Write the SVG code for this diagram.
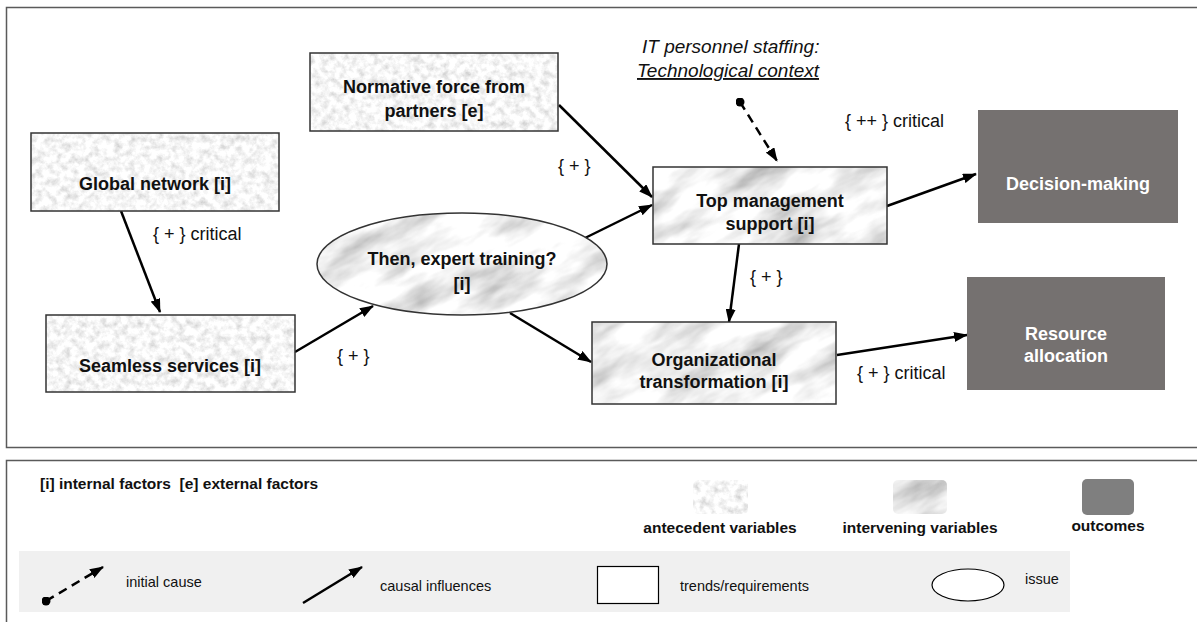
<svg xmlns="http://www.w3.org/2000/svg" width="1197" height="622" viewBox="0 0 1197 622">
  <style>
    .panel { fill: #ffffff; stroke: #5a5a5a; stroke-width: 1.5; }
    .band { fill: #f0f0f0; }
    .edge { stroke: #333333; stroke-width: 1.5; }
    .ante { fill: url(#granite); }
    .inter { fill: url(#marble); }
    .outcome { fill: #757170; }
    .node-text { font-family: "Liberation Sans", Arial, sans-serif; font-weight: bold; font-size: 18px; fill: #111111; text-anchor: middle; }
    .out-text { font-family: "Liberation Sans", Arial, sans-serif; font-weight: bold; font-size: 18px; fill: #ffffff; text-anchor: middle; }
    .label { font-family: "Liberation Sans", Arial, sans-serif; font-size: 18px; fill: #111111; }
    .note { font-family: "Liberation Sans", Arial, sans-serif; font-style: italic; font-size: 19px; fill: #111111; }
    .conn { fill: none; stroke: #000000; stroke-width: 2.5; }
    .dash { stroke-dasharray: 9 6; }
    .leg-bold { font-family: "Liberation Sans", Arial, sans-serif; font-weight: bold; font-size: 15.5px; fill: #111111; }
    .leg-text { font-family: "Liberation Sans", Arial, sans-serif; font-size: 14.5px; fill: #111111; }
  </style>
  <defs>
    <!-- speckled granite texture for antecedent variables -->
    <filter id="graniteNoise" x="0" y="0" width="100%" height="100%">
      <feTurbulence type="fractalNoise" baseFrequency="0.14" numOctaves="4" seed="7" stitchTiles="stitch" result="n"/>
      <feColorMatrix in="n" type="matrix" values="0.7 0 0 0 0.57  0.7 0 0 0 0.57  0.7 0 0 0 0.57  0 0 0 0 1"/>
    </filter>
    <pattern id="granite" patternUnits="userSpaceOnUse" width="600" height="600">
      <rect width="600" height="600" filter="url(#graniteNoise)"/>
    </pattern>
    <!-- soft streaky marble texture for intervening variables -->
    <filter id="marbleNoise" x="0" y="0" width="100%" height="100%">
      <feTurbulence type="fractalNoise" baseFrequency="0.014 0.04" numOctaves="4" seed="11" stitchTiles="stitch" result="n"/>
      <feColorMatrix in="n" type="matrix" values="1.1 0 0 0 0.34  1.1 0 0 0 0.34  1.1 0 0 0 0.34  0 0 0 0 1"/>
    </filter>
    <pattern id="marble" patternUnits="userSpaceOnUse" width="900" height="900" patternTransform="rotate(-28)">
      <rect width="900" height="900" filter="url(#marbleNoise)"/>
    </pattern>
    <marker id="arrow" viewBox="0 0 14 10" refX="13" refY="5" markerWidth="14" markerHeight="10" markerUnits="userSpaceOnUse" orient="auto">
      <path d="M0,0 L14,5 L0,10 z" fill="#000000"/>
    </marker>
    <marker id="dot" viewBox="0 0 10 10" refX="5" refY="5" markerWidth="9" markerHeight="9" markerUnits="userSpaceOnUse">
      <circle cx="5" cy="5" r="5" fill="#000000"/>
    </marker>
  </defs>

  <!-- main panel -->
  <rect class="panel" x="6.5" y="7.5" width="1200" height="440"/>

  <!-- connectors -->
  <g id="connectors">
    <line class="conn" x1="121" y1="211" x2="160" y2="312" marker-end="url(#arrow)"/>
    <line class="conn" x1="295" y1="352" x2="373" y2="306" marker-end="url(#arrow)"/>
    <line class="conn" x1="559" y1="105" x2="652" y2="197" marker-end="url(#arrow)"/>
    <line class="conn" x1="585" y1="238" x2="652" y2="205" marker-end="url(#arrow)"/>
    <line class="conn" x1="510" y1="313" x2="591" y2="362" marker-end="url(#arrow)"/>
    <line class="conn" x1="739" y1="244" x2="729" y2="322" marker-end="url(#arrow)"/>
    <line class="conn" x1="887" y1="206" x2="976" y2="174" marker-end="url(#arrow)"/>
    <line class="conn" x1="837" y1="355" x2="967" y2="335" marker-end="url(#arrow)"/>
    <line class="conn dash" x1="740" y1="102" x2="777" y2="161" marker-start="url(#dot)" marker-end="url(#arrow)"/>

    <text class="label" x="153" y="240">{ + } critical</text>
    <text class="label" x="337" y="362">{ + }</text>
    <text class="label" x="558" y="172">{ + }</text>
    <text class="label" x="750" y="283">{ + }</text>
    <text class="label" x="845" y="127">{ ++ } critical</text>
    <text class="label" x="857" y="379">{ + } critical</text>
  </g>

  <!-- nodes -->
  <g id="global-network">
    <rect class="ante" x="31" y="133" width="248" height="78"/>
    <rect class="edge" x="31" y="133" width="248" height="78" fill="none"/>
    <text class="node-text" x="155" y="190">Global network [i]</text>
  </g>
  <g id="seamless-services">
    <rect class="ante" x="46" y="315" width="249" height="77"/>
    <rect class="edge" x="46" y="315" width="249" height="77" fill="none"/>
    <text class="node-text" x="170" y="372">Seamless services [i]</text>
  </g>
  <g id="normative-force">
    <rect class="ante" x="310" y="53" width="248" height="78"/>
    <rect class="edge" x="310" y="53" width="248" height="78" fill="none"/>
    <text class="node-text" x="434" y="93">Normative force from</text>
    <text class="node-text" x="434" y="117">partners [e]</text>
  </g>
  <g id="expert-training">
    <ellipse class="inter" cx="462" cy="264" rx="145" ry="51"/>
    <ellipse class="edge" cx="462" cy="264" rx="145" ry="51" fill="none"/>
    <text class="node-text" x="462" y="265">Then, expert training?</text>
    <text class="node-text" x="462" y="290">[i]</text>
  </g>
  <g id="top-management">
    <rect class="inter" x="653" y="167" width="234" height="77"/>
    <rect class="edge" x="653" y="167" width="234" height="77" fill="none"/>
    <text class="node-text" x="770" y="207">Top management</text>
    <text class="node-text" x="770" y="230">support [i]</text>
  </g>
  <g id="org-transformation">
    <rect class="inter" x="592" y="322" width="244" height="82"/>
    <rect class="edge" x="592" y="322" width="244" height="82" fill="none"/>
    <text class="node-text" x="714" y="366">Organizational</text>
    <text class="node-text" x="714" y="388">transformation [i]</text>
  </g>
  <g id="it-staffing">
    <text class="note" x="642" y="53">IT personnel staffing:</text>
    <text class="note" x="637" y="77" text-decoration="underline">Technological context</text>
  </g>
  <g id="decision-making">
    <rect class="outcome" x="978" y="110" width="200" height="113"/>
    <text class="out-text" x="1078" y="190">Decision-making</text>
  </g>
  <g id="resource-allocation">
    <rect class="outcome" x="967" y="277" width="198" height="113"/>
    <text class="out-text" x="1066" y="340">Resource</text>
    <text class="out-text" x="1066" y="362">allocation</text>
  </g>

  <!-- legend -->
  <g id="legend">
    <rect class="panel" x="6.5" y="460.5" width="1200" height="200"/>
    <text class="leg-bold" x="40" y="489">[i] internal factors &#160;[e] external factors</text>

    <rect class="ante" x="693" y="480" width="55" height="34" rx="5"/>
    <rect class="inter" x="893" y="480" width="54" height="34" rx="5"/>
    <rect x="1082" y="479" width="52" height="36" rx="5" fill="#7f7f7f"/>
    <text class="leg-bold" x="720" y="533" text-anchor="middle" font-size="15px">antecedent variables</text>
    <text class="leg-bold" x="920" y="533" text-anchor="middle" font-size="15px">intervening variables</text>
    <text class="leg-bold" x="1108" y="531" text-anchor="middle" font-size="15px">outcomes</text>

    <rect class="band" x="19" y="551" width="1051" height="61"/>
    <line class="conn dash" x1="46" y1="601" x2="103" y2="567" marker-start="url(#dot)" marker-end="url(#arrow)"/>
    <text class="leg-text" x="126" y="587">initial cause</text>
    <line class="conn" x1="303" y1="603" x2="362" y2="567" marker-end="url(#arrow)"/>
    <text class="leg-text" x="380" y="591">causal influences</text>
    <rect x="597.5" y="566.5" width="61" height="37" fill="#ffffff" stroke="#000000" stroke-width="1.2"/>
    <text class="leg-text" x="680" y="591">trends/requirements</text>
    <ellipse cx="968" cy="585" rx="36" ry="16" fill="#ffffff" stroke="#000000" stroke-width="1.2"/>
    <text class="leg-text" x="1025" y="584">issue</text>
  </g>
</svg>
